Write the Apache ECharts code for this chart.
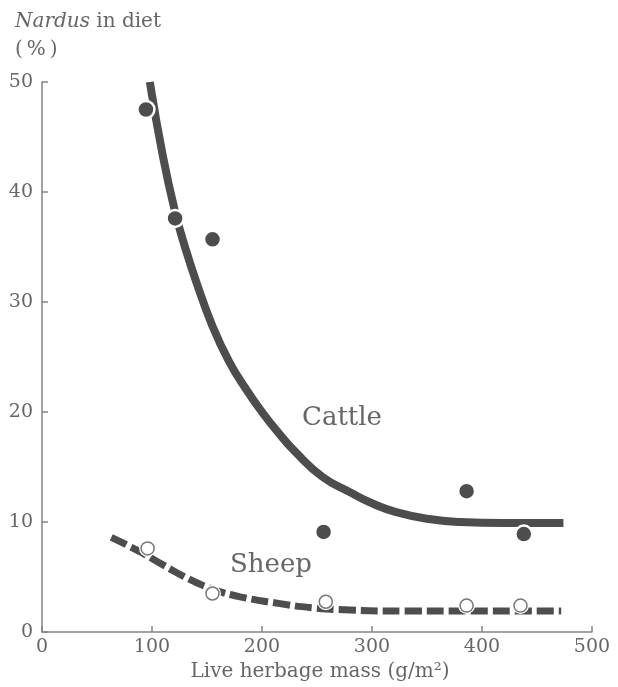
<!DOCTYPE html>
<html>
<head>
<meta charset="utf-8">
<script src="https://cdn.jsdelivr.net/npm/echarts@6/dist/echarts.min.js"></script>
<style>
  html, body { margin: 0; padding: 0; background: #fff; }
  #chart { width: 618px; height: 687px; }
</style>
</head>
<body>
<div id="chart"></div>
<script>
// Observed Nardus share in the diet, [live herbage mass (g/m2), % of diet]
const cattlePoints = [[94.5, 47.5], [121, 37.6], [155, 35.7], [256, 9.1], [386, 12.8], [438, 8.9]];
const sheepPoints = [[96, 7.6], [155, 3.5], [258, 2.75], [386, 2.4], [435, 2.4]];

// Fitted response curves
const cattleCurve = [[98, 50], [110, 43.2], [121, 38.2], [130, 35.0], [140, 31.9], [155, 27.8],
  [170, 24.6], [186, 22.0], [200, 20.0], [215, 18.1], [231, 16.3], [255, 14.1], [280, 12.7],
  [300, 11.7], [322, 10.9], [350, 10.3], [380, 10.0], [420, 9.9], [474, 9.9]];
const sheepCurve = [[63, 8.6], [89, 7.3], [110, 6.1], [134, 4.8], [155, 3.9], [180, 3.2],
  [215, 2.6], [246, 2.2], [280, 2.0], [330, 1.9], [400, 1.9], [472, 1.9]];

const xTicks = [0, 100, 200, 300, 400, 500];
const yTicks = [0, 10, 20, 30, 40, 50];

const ink = '#4d4d4d';
const textGray = '#666';
const serif = '"DejaVu Serif", "Liberation Serif", serif';

const chart = echarts.init(document.getElementById('chart'), null, { renderer: 'canvas' });

chart.setOption({
  animation: false,
  backgroundColor: '#fff',
  title: {
    left: 10,
    top: 3,
    text: '{i|Nardus} in diet\n(\u2009%\u2009)',
    textStyle: {
      fontFamily: serif,
      fontSize: 20,
      fontWeight: 'normal',
      color: textGray,
      lineHeight: 28,
      rich: {
        i: { fontFamily: serif, fontSize: 20, fontStyle: 'italic', color: textGray }
      }
    }
  },
  grid: { left: 42, top: 82, width: 550, height: 550, containLabel: false, outerBoundsMode: 'none' },
  xAxis: {
    type: 'value',
    min: xTicks[0],
    max: xTicks[xTicks.length - 1],
    interval: 100,
    name: 'Live herbage mass (g/m²)',
    nameLocation: 'middle',
    nameGap: 30,
    nameTextStyle: { fontFamily: serif, fontSize: 20, color: textGray, padding: [0, 0, 0, 6] },
    axisLine: { lineStyle: { color: '#858585', width: 1.5 } },
    axisTick: { show: true, inside: true, length: 6, lineStyle: { color: '#858585', width: 1.5 } },
    axisLabel: { fontFamily: serif, fontSize: 19, color: textGray, margin: 6 },
    splitLine: { show: false }
  },
  yAxis: {
    type: 'value',
    min: yTicks[0],
    max: yTicks[yTicks.length - 1],
    interval: 10,
    axisLine: { show: true, lineStyle: { color: '#858585', width: 1.5 } },
    axisTick: { show: true, inside: true, length: 6, lineStyle: { color: '#858585', width: 1.5 } },
    axisLabel: { fontFamily: serif, fontSize: 19, color: textGray, margin: 9 },
    splitLine: { show: false }
  },
  graphic: [
    { type: 'text', left: 302, top: 405, style: { text: 'Cattle', fontFamily: serif, fontSize: 26, fill: textGray } },
    { type: 'text', left: 230, top: 552, style: { text: 'Sheep', fontFamily: serif, fontSize: 26, fill: textGray } }
  ],
  series: [
    {
      type: 'line',
      data: cattleCurve,
      smooth: 0.5,
      showSymbol: false,
      lineStyle: { color: ink, width: 8, cap: 'butt' },
      z: 2
    },
    {
      type: 'line',
      data: sheepCurve,
      smooth: 0.5,
      showSymbol: false,
      lineStyle: { color: ink, width: 7, type: [17, 5], cap: 'butt' },
      z: 2
    },
    {
      // white halo under the open circles
      type: 'scatter',
      data: sheepPoints,
      symbolSize: 17,
      itemStyle: { color: '#fff', opacity: 1 },
      silent: true,
      z: 3
    },
    {
      type: 'scatter',
      data: sheepPoints,
      symbolSize: 13,
      itemStyle: { color: '#fff', borderColor: '#777', borderWidth: 1.5, opacity: 1 },
      z: 4
    },
    {
      type: 'scatter',
      data: cattlePoints,
      symbolSize: 17,
      itemStyle: { color: ink, borderColor: '#fff', borderWidth: 2.5, opacity: 1 },
      z: 4
    }
  ]
});
</script>
</body>
</html>
